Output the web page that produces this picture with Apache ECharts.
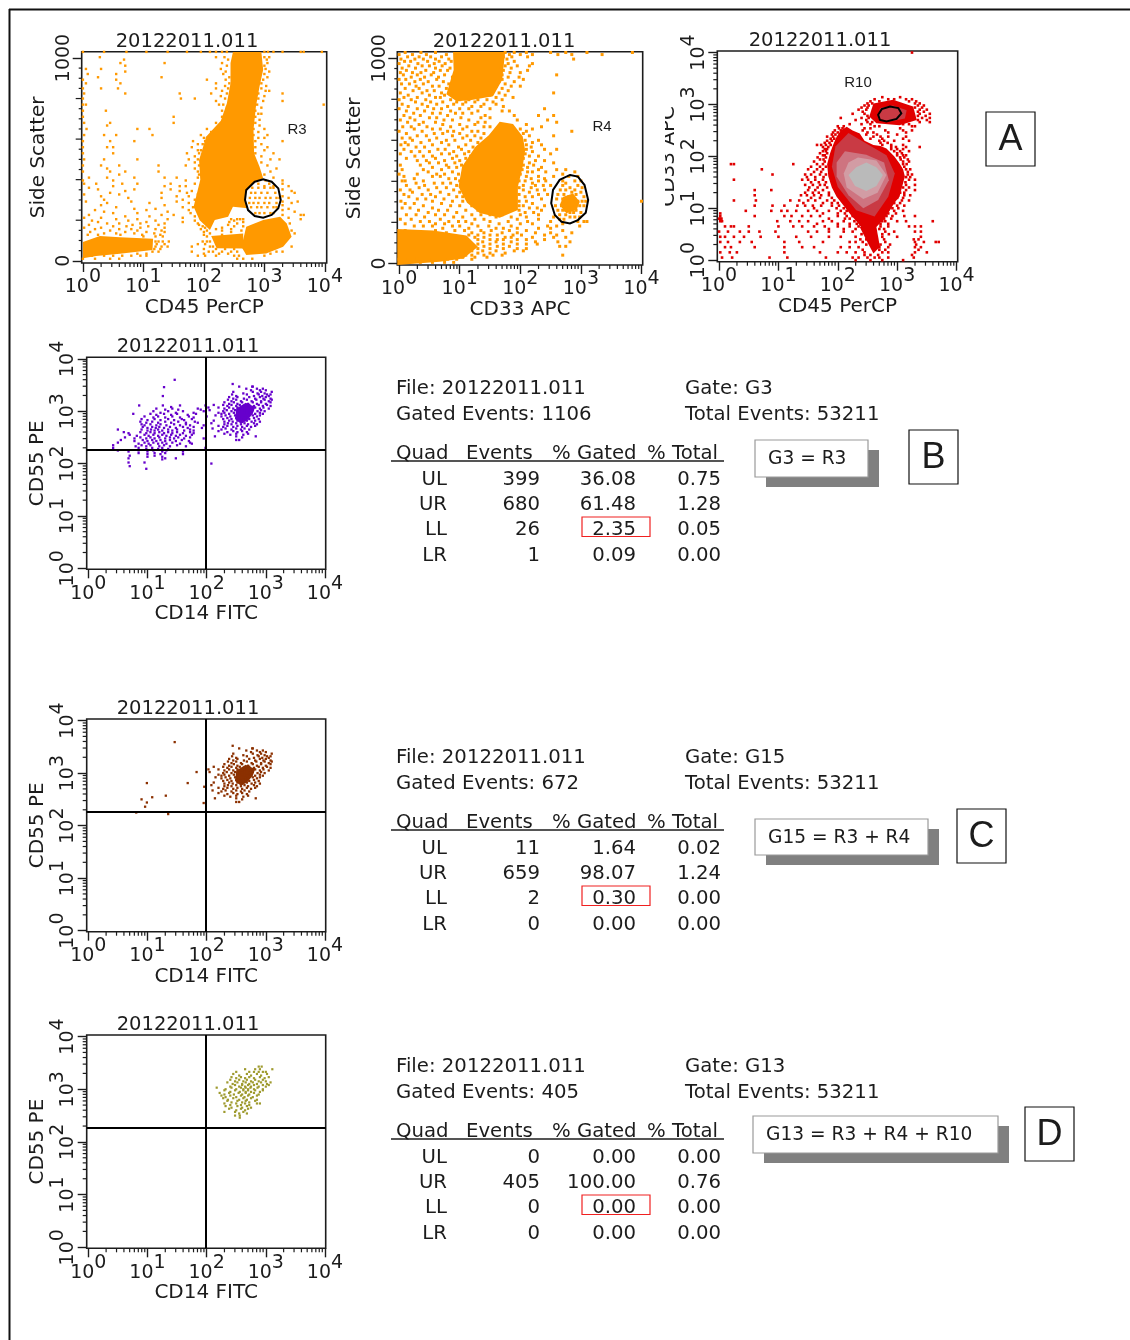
<!DOCTYPE html>
<html><head><meta charset="utf-8"><title>Flow cytometry gating</title>
<style>html,body{margin:0;padding:0;background:#fff}#c{width:1130px;height:1340px}</style>
<script src="https://cdn.jsdelivr.net/npm/echarts@6/dist/echarts.min.js"></script></head>
<body><div id="c"></div>
<script>
// ---------- data: x and log-scaled y are in decades (10^n) ----------
const fileName = '20122011.011';
const totalEvents = 53211;
const quadNames = ['UL','UR','LL','LR'];
const logTicks = [1,10,100,1000,10000];
const sscTicks = [0,1000];

const ssc45Rows = [
[1030,[0,.35,.72,1.05,1.4,1.72,1.95,2.1,2.2,2.3,2.38,3.0,3.06,3.15,3.3,3.6,3.65,3.95]],
[1004,[.28,2.2,2.34,3.0,3.08]],[992,[.68,2.4,3.04]],[975,[.62,1.35,2.3,3.05]],[962,[.7,2.38,3]],[946,[.05,.3,2.28,3.02]],[933,[.7,2.36,3.08]],
[921,[.08,.55,2.32,3]],[905,[.25,1.3,2.42,3.05]],[893,[0,.55,2.05,2.36,2.98]],[875,[.05,.62,2.2,2.42,2.95]],[862,[2.35,3.03]],
[850,[0,.3,.58,2.2,2.4,2.95]],[838,[2.3,3.02,3.08]],[825,[.02,.7,1.6,2.12,2.38,2.9,3.3]],[812,[2.28,3]],[800,[0,1.62,1.85,2.35,2.9]],[788,[2.2,2.98,3.3]],
[770,[0,.05,2.25,2.32,2.88,3.98]],[755,[2.38,2.95]],[740,[0,.38,2.3,2.85]],[725,[2.35,2.95,2.9]],[710,[0,1.5,2.3,2.85]],[695,[2.35,2.92]],
[680,[.02,.45,1.5,2.2,2.85]],[667,[.4,2.25,2.92]],[650,[.06,.9,1.1,2.05,2.2,2.82,3]],[635,[2.12,2.9]],[620,[.02,.35,.55,1.15,1.95,2.82,3.05]],[606,[2,2.05,2.9,3.0]],
[590,[0,.45,.85,1.82,2.02,2.85,3.3]],[575,[1.9,1.98,2.95]],[560,[0,.4,.5,1.8,2.85,3.05]],[545,[1.9,1.95,3.0]],[530,[0,.5,1.72,1.92,2.85,3.15]],[515,[1.85,2.95]],
[500,[.02,.35,.9,1.75,1.9,3.1,3.25]],[485,[1.85,2.95]],[470,[0,.3,.6,1.25,1.7,1.92,3.05]],[455,[.4,1.85,3.2]],[440,[0,.45,.7,1.25,1.9,3.1]],[425,[.6,1.92,3.0]],
[410,[.1,.4,.85,1.35,1.55,1.9,3.15]],[396,[0,.5,1.7,3.02,3.3]],[380,[.02,.22,.65,.9,1.45,1.85,2.9,3.08,3.3]],[368,[.5,1.35,1.6,1.7,3,3.15,3.4]],
[360,[.1,2.8,2.9,3,3.1,3.15]],[352,[.25,.85,1.45,3.3]],[344,[.7,1.6,1.8,3.45]],[335,[.45,1.3,1.72,2.78,2.85,2.95,3.05,3.18,3.5]],[327,[.02,.6,1.9]],
[318,[.3,1.55,1.75,3.3]],[310,[.75,1.3,2.76,2.85,2.92,3.02,3.1,3.2,3.25,3.4]],[301,[.35,1.65,1.85]],[292,[.05,.8,1.55,3.3,3.55]],[285,[.4,1.1,1.75,2.75,2.82,2.9,3,3.08,3.2,3.45]],
[274,[.3,1.35,3.3]],[264,[.55,1.65,1.82,2.78,2.88,2.95,3.05,3.15,3.2]],[256,[.85,1.2,3.4]],[250,[.2,1.05,1.75,3.3]],[242,[.35,1.4,3.5]],[235,[.5,.9,1.78,2.85,2.92,3,3.1,3.15]],
[226,[.1,1.3,1.5,3.3,3.6,3.65]],[219,[.7,1.1,1.85]],[212,[.02,.3,1.65,3.4]],[205,[.55,.9,1.4,2.45,2.55,2.6,2.65,3.6]],[198,[.15,.75,1.2,1.85,2.5]],[191,[.25,1.05,1.65,2.42,2.65]],
[184,[.4,.6,.95,1.35,1.9,2.55,3.42]],[177,[.1,.82,1.25,1.92,2.4]],[170,[.5,.72,1.08,1.98,2.5,2.65]],[163,[.02,.3,.95,1.35,2.02,2.3]],[156,[.2,.6,.8,1.2,1.95,2.2,2.45]],
[149,[.45,.9,1.3,2.05,2.3,2.62,3.45]],[142,[.12,.7,1.05,1.35,2,2.45]],[135,[.35,.55,.85,1.18,2.1,3.5]],[128,[.08,.25,.62,.98,1.28,2,2.3]],[120,[1.0,1.2,1.32,2.05]],
[95,[1.2,1.25,1.32,1.42,1.98,2.05,2.1]],[82,[1.22,1.35,1.9,2.02]],[70,[1.2,1.3,1.4,1.8,2.1,2.15,3.45]],[58,[1.18,1.28,2,2.2,2.35,2.5]],
[45,[1.15,1.25,1.8,2.08,2.15,2.3,2.45,2.55,3.2,3.3]],[35,[.3,.9,1.05,2.0,2.25,2.4,3.1]],[25,[.05,.15,.35,.5,.65,.8,.95,1.05,1.9,2.02,2.2,2.5,2.58,3]],
[10,[0,.2,.45,.6,2.55,2.65,2.8]]];
const ssc45Dense = [
[[2.48,1030],[2.95,1030],[2.98,942],[2.92,860],[2.86,761],[2.82,646],[2.83,530],[2.92,464],[2.98,407],[2.81,385],[2.70,341],[2.68,300],[2.73,259],[2.48,267],[2.40,217],[2.18,201],[2.10,152],[1.93,200],[1.83,267],[1.94,399],[1.92,497],[2.04,613],[2.28,690],[2.38,777],[2.44,876],[2.44,975]],
[[3.26,217],[3.37,184],[3.45,119],[3.31,69],[3.03,36],[2.70,28],[2.62,69],[2.70,168],[2.98,201]],
[[2.12,122],[2.65,135],[2.65,60],[2.21,62]],
[[0,92],[.28,122],[.61,116],[1.16,108],[1.15,53],[.61,34],[.22,24],[0,12]]];
const gateR3 = [[2.84,390],[2.98,402],[3.12,390],[3.23,357],[3.27,300],[3.23,259],[3.12,226],[2.98,212],[2.84,221],[2.73,250],[2.68,300],[2.70,349]];

const ssc33Rows = [
[1028,[.1,.36,.6,1.75,1.9,2.1,2.5,2.75,3.1,3.85]],[1018,[0,.22,.45,.78,1.82,2,2.2,2.62,2.85,3.35]],[1007,[.14,.33,.52,.7,1.72,1.86,2.12]],[996,[.03,.26,.4,.6,.82,1.78,2.88]],
[985,[.09,.19,.47,.66,.86,1.7,1.9]],[974,[0,.31,.58,.76,1.8,2.2]],[963,[.16,.38,.5,.71,1.75,1.95,2.15]],[952,[.05,.27,.6,.84,1.68,1.85]],[941,[.12,.44,.68,.8,1.72,2.12]],
[930,[.02,.22,.36,.57,1.83,2]],[919,[.07,.3,.53,.75,1.7,2.6]],[908,[.2,.42,.65,.88,1.8,1.98]],[897,[0,.11,.35,.62,1.7,2.05]],[886,[.26,.48,.73,1.65,1.9]],
[875,[.04,.17,.4,.82,1.75]],[864,[.28,.55,.66,1.6,1.85,2]],[853,[.1,.33,.78,1.7]],[842,[.23,.46,.58,1.55,1.8]],[831,[.02,.38,.7,1.65,2.55]],[820,[.15,.5,.75,1.5,1.75]],
[809,[.08,.3,.6,.68,1.6,1.88]],[798,[0,.2,.44,.85,1.0,1.15,1.3,1.45,1.7]],[787,[.27,.52,.72,.95,1.1,1.25,1.55]],[776,[.05,.38,.62,.9,1.05,1.4,1.6]],[765,[.15,.47,.8,1.2,1.35,1.72]],
[754,[0,.3,.57,.7,1,1.15,1.5,2.4]],[743,[.12,.42,.85,1.3,1.7,1.82]],[732,[.24,.55,.68,.93,1.05,1.2]],[721,[.08,.35,.8,1.42,1.9,2.3,2.55]],[710,[.18,.5,.62,1.02,1.35,1.5]],
[699,[.02,.26,.74,.88,1.15,1.95,2.45]],[688,[.14,.4,.6,1.3,1.42,2.6]],[677,[.33,.72,1,1.25,2.1]],[666,[.06,.2,.46,.85,1.12,1.4,1.5,2.35]],[655,[.25,.55,.68,1.05,2,2.2]],
[644,[0,.38,.8,.9,1.2,1.3,2.1,2.85]],[633,[.12,.58,.72,1.0,1.4,2.05]],[622,[.3,.45,.88,1.12,1.25,2.15,2.55]],[611,[.05,.18,.62,1.05,1.35]],[600,[.22,.5,.78,.92,1.18,2.08,2.3]],
[589,[.1,.36,.7,1.3,2.2]],[578,[.03,.15,.55,.82,1.1,2.1,2.35]],[567,[.28,.42,.98,1.22,2.18]],[556,[.08,.64,.76,1.03,2.1,2.4,2.6]],[545,[.2,.34,.5,.9,1.15,2.2]],
[534,[.02,.7,.83,1.08,2.08,2.5]],[523,[.26,.4,.55,.95,1.18,2.15,2.3]],[512,[.12,.6,.88,1.1,2.05]],[501,[.3,.45,.75,1,2.25,2.4]],[490,[.5,.65,.92,2.15,2.55]],
[479,[.02,.35,.78,1.03,2.05,2.22]],[468,[.55,.82,.95,2.12,2.35]],[457,[.05,.4,.7,2.03,2.3,2.6,2.75]],[446,[.48,.88,2.12,2.2,2.42,2.9]],[435,[0,.3,.62,.75,.98,2,2.7]],
[424,[.08,.55,.68,2.1,2.3,2.55,2.8,2.95]],[413,[.25,.82,.93,2.18,2.4]],[402,[.05,.1,.4,1,1.98,2.08,2.3,2.42,2.7,2.9,3]],[391,[.28,.58,.72,.85,2.2,2.75]],[380,[.12,.42,.95,2.05,2.25,2.38,2.5,2.7,2.95]],
[369,[.33,.62,.78,1.98,2.18,2.82,3.02]],[358,[.02,.18,.48,.9,2.05,2.28,2.4,2.66,2.75,2.9]],[347,[.22,.68,1,2.15,2.85,3]],[336,[.08,.38,.52,.82,1.98,2.3,2.45,2.62,2.72,2.92]],
[325,[.16,.6,.95,1.05,2.08,2.2,2.8,2.85,3.05]],[314,[.3,.44,.74,2.35,2.6,2.7,2.9]],[303,[.03,.55,.88,1.05,1.98,2.1,2.75,2.8,2.95,3.02,3.08,4]],[292,[.1,.25,.7,2.2,2.85]],
[281,[.4,.85,1,1.2,1.98,2.05,2.4,2.58,2.68,2.74,2.9,2.98,3.05]],[270,[.05,.18,.55,2.15,2.28,2.8,2.85]],[259,[.32,.65,.8,1.1,1.3,1.98,2.35,2.62,2.7,2.75,2.92]],[248,[.48,.95,2.08,2.22,2.82,2.88,3]],
[237,[.12,.28,.6,.75,1.2,1.35,1.5,1.7,2,2.3,2.65,2.75]],[226,[.42,.9,1.05,1.6,1.85,2.1,2.55,2.82,2.9,2.98]],[215,[.02,.2,.68,1.25,1.4,1.95,2.3,2.65,2.72]],[204,[.35,.5,.82,.98,1.1,1.5,1.8,2.12,2.5,2.95,3.05,3.1]],
[193,[.1,.6,.75,1.2,1.65,2,2.2,2.7]],[182,[.25,.4,.55,.88,1,1.3,1.48,1.85,2.45,2.6,2.98]],[171,[.72,1.15,1.6,1.72,1.95,2.3,2.5]],[160,[.1,.6,.92,1.08,1.35,1.52,1.82,2.1,2.7]],
[149,[.78,1.2,1.4,1.7,1.95,2.25,2.5,2.85]],[138,[1.15,1.3,1.5,1.62,1.88,2.02,2.4,2.6]],[127,[1.25,1.4,1.75,1.85,2.2,2.55,2.75]],[116,[1.3,1.5,1.62,1.72,1.95,2.1,2.4]],
[105,[1.38,1.6,1.85,2.25,2.62,2.82]],[94,[1.3,1.5,1.72,1.95,2.1,2.28]],[83,[1.4,1.62,1.82,2.65,2.75]],[72,[1.3,1.5,1.72,1.95,2.1]],[61,[1.2,1.38,1.6,1.9,2.05]],[50,[1.3,1.5,1.75]],
[40,[1.1,1.2,1.4,1.55,1.7,2.7]],[30,[1.05,1.25,1.45]],[20,[0,.15,.3,.5,.65,.8,.95,1.2]],[5,[.1,.35,.55,.75,.9]]];
const ssc33Dense = [
[[1.66,690],[1.88,680],[2.04,618],[2.08,553],[2.04,472],[1.96,374],[1.96,260],[1.66,222],[1.33,245],[1.12,295],[.98,374],[1.04,472],[1.26,569],[1.48,625]],
[[.89,1030],[1.75,1030],[1.7,894],[1.55,815],[1.17,795],[.95,790],[.78,825],[.90,943]],
[[-.03,168],[.56,160],[1.11,136],[1.3,81],[1.06,24],[.67,8],[-.03,-8]],
[[2.71,325],[2.87,341],[2.98,301],[2.93,260],[2.76,244],[2.65,285]]];
const gateR4 = [[2.82,431],[2.95,423],[3.06,382],[3.12,309],[3.08,247],[2.95,211],[2.82,195],[2.68,203],[2.57,236],[2.51,293],[2.54,358],[2.65,407]];

const apc45Rows = [
[4,[3.25]],[3.14,[2.75,3.05]],[3.1,[2.62,2.85,2.95,3.15,3.25]],[3.06,[2.55,2.7,3.2,3.32]],[3.02,[2.5,2.58,3.3,3.38]],[2.98,[2.45,2.52,3.35,3.45]],[2.94,[2.4,2.5,3.3,3.42]],
[2.9,[2.35,2.48,3.38,3.5]],[2.86,[2.42,3.35,3.45]],[2.82,[2.25,2.45,3.38,3.55]],[2.78,[2.5,3.35,3.48]],[2.74,[2.05,2.4,2.52,3.42,3.55]],[2.7,[2.3,2.48,3.35,3.5]],
[2.66,[2.5,2.58,3.38,3.55]],[2.62,[2.2,2.4,2.55,3.1,3.2]],[2.58,[2.0,2.1,2.62,2.7,3.25,3.3]],[2.54,[2.02,2.08,2.45,2.55,3.05]],[2.5,[1.95,2.05,2.42,2.8,3.1,3.25]],
[2.46,[1.92,2.0,2.5,2.6,2.85,3.15]],[2.42,[1.9,1.96,2.48,2.66,3]],[2.38,[1.82,1.92,2.6,2.72,2.85,3.15]],[2.34,[1.88,1.94,2.55,2.75,3.1]],[2.3,[1.82,1.9,2.7,2.78,2.95,3.2]],
[2.26,[1.78,1.86,2.72,2.84]],[2.22,[1.65,1.72,1.8,1.88,2.75,2.9,3.1]],[2.18,[1.75,1.84,2.9,2.98,3.15,3.38]],[2.14,[1.78,1.82,2.9,3,3.1]],[2.1,[1.75,1.8,2.95,3.05,3.2]],
[2.06,[1.7,1.82,3,3.08]],[2.02,[1.75,1.78,3,3.1,3.15]],[1.98,[1.66,1.8,3.05,3.12]],[1.94,[1.7,1.76,3.06,3.18]],[1.9,[1.6,1.78,3.1,3.2]],[1.85,[.2,.25,1.25,1.65,1.75,3.1,3.16]],
[1.8,[1.55,1.7,1.8,3.12]],[1.75,[.72,1.5,1.65,1.75,3.15,3.22]],[1.7,[1.6,1.72,3.18]],[1.65,[.9,1.45,1.55,1.7,1.8,3.18,3.25]],[1.6,[1.48,1.62,1.76,3.15,3.22]],
[1.55,[.25,1.4,1.5,1.62,1.75,3.2,3.3]],[1.5,[1.55,1.68,1.8,3.14]],[1.45,[1.45,1.58,1.7,1.78,3.15,3.3]],[1.4,[1.52,1.66,1.82,3.1,3.2]],[1.35,[.6,.88,1.5,1.62,1.75,3.15,3.3]],
[1.3,[1.45,1.58,1.68,1.85,3.05,3.12]],[1.25,[.6,1.38,1.48,1.6,1.72,1.85,3.12,3.22]],[1.2,[1.55,1.7,1.9,3.0,3.1]],[1.15,[.25,.62,1.2,1.35,1.5,1.62,1.82,1.94,3.08,3.2]],
[1.1,[1.42,1.75,1.9,2.0,2.95,3.05]],[1.05,[.6,.9,1.1,1.32,1.45,1.58,1.72,1.9,2.02,3,3.12]],[1,[1.6,1.98,2.1,2.92,3.02]],[.95,[.45,.88,1.05,1.15,1.3,1.5,1.65,1.85,2.05,2.15,2.95,3.1]],
[.9,[.02,1.75,2,2.12,2.85,2.98]],[.85,[.02,.6,1.1,1.22,1.4,1.55,1.7,2,2.15,2.25,2.82,2.92,3.12,3.3]],[.8,[0,.02,.04,1.85,2.12,2.2,2.78,2.9]],
[.75,[.02,.05,.98,1.2,1.35,1.5,1.75,1.9,2.1,2.28,2.75,2.8,3,3.15,3.6]],[.7,[1.65,2,2.2,2.32,2.72,2.85]],[.65,[.1,.2,.25,.5,1,1.25,1.4,1.6,1.78,2,2.2,2.35,2.72,2.85,3.2,3.3,3.4]],
[.6,[1.85,2.1,2.3,2.7,2.78]],[.55,[0,.15,.35,.5,.68,.95,1.5,1.65,1.85,2.1,2.25,2.8,2.95,3.3,3.4]],[.5,[2.4,2.75,2.86]],
[.45,[.02,.1,.25,.42,.7,1,1.3,1.55,1.85,2.05,2.3,2.75,3,3.4]],[.4,[2.38,2.48,2.78,3.28,3.36]],[.35,[.02,.15,.35,.55,1.1,1.35,1.75,2.2,2.3,2.42,2.8,3.3,3.45,3.65,3.7]],
[.3,[2.48,2.72,2.88,3.32]],[.25,[.1,.2,.6,1.1,1.4,1.6,2.05,2.2,2.35,2.7,2.85,3.3,3.4]],[.2,[2.42,2.7,2.8,3.36]],[.15,[.02,.18,.3,1.1,1.7,2,2.15,2.3,2.45,2.75,2.85,3.3,3.5]],
[.1,[2.45,2.55,2.68,3.25]],[.05,[.05,.22,.85,1.15,1.8,2.25,2.35,2.5,2.62,2.7,2.85,3.28]],[0,[2.3,2.55,2.75,3.1]]];
const apc45Layers = [
[[2.15,2.57],[2.25,2.5],[2.37,2.44],[2.45,2.3],[2.60,2.22],[2.72,2.2],[2.82,2.15],[2.95,2.0],[3.04,1.86],[3.10,1.75],[3.13,1.61],[3.08,1.4],[3.04,1.22],[2.95,1.1],[2.88,.96],[2.78,.8],[2.65,.64],[2.43,.58],[2.32,.74],[2.20,.90],[2.1,1.05],[1.98,1.22],[1.9,1.4],[1.84,1.61],[1.82,1.85],[1.87,2.06],[1.92,2.22],[1.98,2.38],[2.05,2.5]],
[[2.60,3.02],[2.93,3.09],[3.27,2.96],[3.33,2.70],[3.04,2.60],[2.65,2.64],[2.53,2.77]],
[[2.37,.64],[2.65,.64],[2.71,.26],[2.60,.13],[2.51,.32]],
[[2.18,2.45],[2.48,2.25],[2.82,2.02],[2.96,1.67],[2.85,1.22],[2.62,.84],[2.31,.96],[2.0,1.41],[1.9,1.80],[1.96,2.19]],
[[2.71,2.93],[2.93,2.98],[3.16,2.89],[3.13,2.73],[2.88,2.67],[2.68,2.73]],
[[2.12,2.1],[2.48,2.03],[2.78,1.88],[2.86,1.54],[2.68,1.16],[2.43,1.0],[2.18,1.25],[1.98,1.61],[1.98,1.88]],
[[2.34,1.98],[2.65,1.92],[2.82,1.64],[2.67,1.3],[2.43,1.18],[2.15,1.40],[2.1,1.67],[2.18,1.88]],
[[2.48,1.88],[2.65,1.79],[2.76,1.64],[2.65,1.43],[2.48,1.33],[2.29,1.43],[2.18,1.64],[2.31,1.79]]];
const apc45LayerTones = ['#E00000','#E00000','#E00000','#C93A44','#C93A44','#CE7480','#D29CA4','#BABABA'];
const gateR10 = [[2.68,2.80],[2.74,2.91],[2.88,2.96],[3.02,2.93],[3.07,2.83],[2.99,2.72],[2.82,2.67],[2.71,2.70]];

const urClusterRows = [
[3.52,[2.44]],[3.47,[2.55,2.77,2.78]],[3.43,[2.67,2.85,2.95]],[3.4,[2.75,2.9,3]],[3.37,[2.45,2.78,2.92,3.1]],[3.34,[2.62,2.86,2.98]],[3.32,[2.43,2.68,2.88,3.02,3.08]],[3.29,[2.5,2.8,2.94,3.05]],
[3.27,[2.38,2.52,2.72,2.9,3]],[3.24,[2.45,2.63,2.82,2.96,3.08]],[3.22,[2.36,2.5,2.68,2.84,2.98,3.1]],[3.19,[2.42,2.58,2.76,2.92,3.05]],[3.17,[2.3,2.46,2.6,2.78,2.92,3.08]],[3.14,[2.38,2.52,2.7,2.85,3]],
[3.12,[2.12,2.28,2.42,2.56,2.72,2.88,3.02]],[3.1,[2.35,2.5,2.64,2.8,2.95,3.08]],[3.07,[2.03,2.2,2.38,2.52,2.68,2.82,2.96]],[3.05,[2.3,2.45,2.6,2.75,2.9,3.05]],[3.02,[2.05,2.34,2.48,2.64,2.78,2.92]],
[3,[2.28,2.42,2.56,2.72,2.86,2.98]],[2.97,[2.2,2.3,2.46,2.6,2.74,2.9]],[2.95,[2.25,2.38,2.52,2.68,2.82,2.95]],[2.92,[2.15,2.32,2.48,2.62,2.78,2.9]],[2.9,[2.25,2.4,2.55,2.7,2.85]],
[2.87,[2.35,2.5,2.66,2.8]],[2.85,[2.28,2.42,2.58,2.72,2.88]],[2.82,[2.12,2.38,2.52,2.68,2.82]],[2.8,[2.3,2.44,2.6,2.76,2.9]],[2.77,[2.08,2.36,2.5,2.64,2.8]],[2.75,[2.3,2.42,2.58,2.7,2.85]],
[2.72,[2.2,2.35,2.52,2.68,2.82]],[2.7,[2.28,2.45,2.6,2.75]],[2.67,[2.1,2.32,2.5,2.64]],[2.65,[2.25,2.42,2.58,2.72]],[2.62,[2.2,2.45,2.6]],[2.6,[2.35,2.52,2.68]],[2.57,[2.3,2.5,2.7]],[2.55,[2.4,2.62]],
[2.52,[2.14,2.5,2.83]],[2.5,[2.6]],[2.45,[2.5,2.55]]];
const urCore = [[[2.5,3.05],[2.66,3.16],[2.82,3.08],[2.78,2.95],[2.68,2.82],[2.58,2.76],[2.48,2.85]]];
const ulClusterRows = [
[3.6,[1.46]],[3.46,[1.28]],[3.29,[1.26]],[3.11,[.86,1.26,1.55,1.98]],[3.08,[1.4]],[3.05,[1.15,1.42,1.85]],[3.03,[1.3,1.52,1.9]],[3,[1.1,1.35,1.6,1.95]],[2.97,[1.22,1.48,1.78]],
[2.95,[.76,1.05,1.28,1.5,1.82]],[2.93,[1.15,1.4,1.68]],[2.9,[.95,1.18,1.42,1.7,2]],[2.88,[1.1,1.3,1.55,1.78]],[2.85,[.9,1.12,1.35,1.58,1.75]],[2.83,[1,1.22,1.45,1.62]],
[2.8,[.88,1.08,1.3,1.52,1.8]],[2.78,[.98,1.18,1.4,1.65,1.85]],[2.75,[.9,1.05,1.22,1.45,1.65]],[2.73,[.95,1.15,1.32,1.55,1.72,1.95]],[2.7,[.92,1.08,1.2,1.38,1.6,1.78]],[2.68,[1,1.14,1.28,1.48,1.68,1.92]],
[2.65,[.5,.9,1.06,1.18,1.35,1.5,1.72]],[2.63,[1,1.12,1.25,1.42,1.62,1.78]],[2.6,[.6,.88,1.05,1.2,1.35,1.5,1.72]],[2.58,[.68,.98,1.12,1.28,1.42,1.6,1.78]],[2.55,[.7,.95,1.1,1.25,1.4,1.55,1.75]],[2.53,[.82,1.02,1.18,1.32,1.48,1.65]],
[2.5,[.62,.88,1.05,1.2,1.38,1.52,1.72]],[2.48,[.78,.98,1.12,1.3,1.45,1.62,1.95]],[2.45,[.55,.92,1.08,1.22,1.38,1.58]],[2.43,[.78,1,1.15,1.3,1.48,1.7]],[2.4,[.5,.95,1.1,1.25,1.42,1.72]],[2.38,[.85,1.02,1.18,1.32,1.55,1.75]],
[2.35,[.42,.9,1.05,1.28,1.5]],[2.33,[.8,.98,1.2,1.38,1.65]],[2.3,[.42,.85,1.08,1.25,1.98]],[2.28,[.98,1.18,1.35]],[2.25,[.5,.85,1.1,1.32]],[2.23,[.68,1,1.25,1.6]],[2.2,[.85,1.12,1.3]],[2.18,[1,1.22,1.6]],
[2.15,[.7,1.12]],[2.13,[1,1.25]],[2.1,[.68,1.3,1.48]],[2.08,[1.25]],[2.02,[.68,.95]],[2,[2.08]],[1.95,[.7]],[1.9,[.98]]];
const g15StrayRows = [[3.59,[1.46]],[3.02,[1.83]],[2.81,[1.68,.99]],[2.74,[1.96]],[2.57,[1.31]],[2.54,[1.08]],[2.5,[.9]],[2.44,[.99]],[2.43,[1.95]],[2.36,[.96]],[2.25,[.81]],[2.22,[1.35]]];
const g13Rows = [
[3.43,[2.88,2.93]],[3.38,[2.65,2.82,2.9,3.11]],[3.33,[2.5,2.72,2.8,2.88,2.95,3]],[3.29,[2.45,2.68,2.85,3.02]],[3.26,[2.55,2.75,2.92]],
[3.23,[2.42,2.58,2.72,2.9,3.05]],[3.21,[2.5,2.65,2.8,2.98]],[3.18,[2.4,2.55,2.68,2.82,2.95]],[3.15,[2.48,2.62,2.75,2.88,3]],
[3.13,[2.35,2.52,2.66,2.78,2.92,3.08]],[3.1,[2.44,2.6,2.72,2.85,3.02]],[3.08,[2.48,2.6,2.7,2.8,2.95,3.05]],[3.05,[2.4,2.55,2.65,2.75,2.88,3]],
[3.03,[2.17,2.42,2.58,2.66,2.74,2.86]],[3,[2.32,2.5,2.62,2.7,2.8,2.95]],[2.98,[2.3,2.48,2.62,2.7,2.82,2.95]],[2.95,[2.4,2.56,2.66,2.75,2.9]],
[2.93,[2.22,2.38,2.54,2.66,2.8]],[2.9,[2.3,2.46,2.6,2.72,2.88]],[2.88,[2.25,2.4,2.58,2.7,2.85]],[2.85,[2.32,2.5,2.64,2.78]],
[2.83,[2.28,2.45,2.62,2.75]],[2.8,[2.36,2.55,2.68,2.85]],[2.78,[2.35,2.52,2.66,2.82]],[2.75,[2.42,2.6,2.72]],[2.73,[2.3,2.5,2.65,2.85,2.9]],[2.7,[2.4,2.58,2.72]],
[2.68,[2.32,2.52,2.68]],[2.65,[2.42,2.6,2.75]],[2.63,[2.38,2.58,2.7]],[2.6,[2.5,2.65]],[2.57,[2.3,2.48,2.62]],[2.54,[2.55,2.68]],[2.5,[2.48,2.56]],[2.46,[2.56]]];
const quadCutX = 1.98;
const quadCutY = 2.27;

const gateNames = ['G3','G15','G13'];
const gatedEvents = [1106,672,405];
const gateDefs = ['G3 = R3','G15 = R3 + R4','G13 = R3 + R4 + R10'];
const eventsG3 = [399,680,26,1];
const pctGatedG3 = ['36.08','61.48','2.35','0.09'];
const pctTotalG3 = ['0.75','1.28','0.05','0.00'];
const eventsG15 = [11,659,2,0];
const pctGatedG15 = ['1.64','98.07','0.30','0.00'];
const pctTotalG15 = ['0.02','1.24','0.00','0.00'];
const eventsG13 = [0,405,0,0];
const pctGatedG13 = ['0.00','100.00','0.00','0.00'];
const pctTotalG13 = ['0.00','0.76','0.00','0.00'];

// ---------- layout and helpers ----------
const INK = '#1c1c1c';
const UI = '"DejaVu Sans", Verdana, sans-serif';
const points = (rows, yLog) => rows.flatMap(([y, xs]) => xs.map(d => [10 ** d, yLog ? 10 ** y : y]));
const range = (a, b, s) => { const o = []; for (let v = a; v <= b; v += s) o.push(v); return o; };
const logMinor = range(0, 3, 1).flatMap(n => range(2, 9, 1).map(m => m * 10 ** n));
const sscMid = range(200, 800, 200), sscMinor = range(50, 950, 50).filter(v => v % 200);

const grids = [], xAxes = [], yAxes = [], series = [], titles = [];
function customSeries(i, count, z, renderItem) {
  series.push({type:'custom', xAxisIndex:i, yAxisIndex:i, z, silent:true, clip:false,
    data: Array.from({length:count}, (_, k) => [k + 1]), encode:{x:0, y:0}, renderItem});
}
function polygons(i, polys, yLog, fills, z) {
  const at = (api, [x, y]) => api.coord([10 ** x, yLog ? 10 ** y : y]);
  customSeries(i, polys.length, z, (p, api) => ({type:'polygon',
    shape:{points: polys[p.dataIndex].map(q => at(api, q))},
    style:{fill: fills[p.dataIndex] ?? fills[0]}}));
}
function gate(i, poly, yLog) {
  customSeries(i, 1, 6, (p, api) => ({type:'polygon',
    shape:{points: poly.map(([x, y]) => api.coord([10 ** x, yLog ? 10 ** y : y]))},
    style:{fill:'none', stroke:'#000', lineWidth:2}}));
}
function ticks(i, list, vertical, len) {
  customSeries(i, list.length, 1, (p, api) => {
    const r = p.coordSys, v = list[p.dataIndex];
    if (vertical) { const c = api.coord([1, v])[1];
      return {type:'line', shape:{x1:r.x, y1:c, x2:r.x - len, y2:c}, style:{stroke:INK, lineWidth:1.2}}; }
    const c = api.coord([v, 1])[0];
    return {type:'line', shape:{x1:c, y1:r.y + r.height, x2:c, y2:r.y + r.height + len}, style:{stroke:INK, lineWidth:1.2}};
  });
}
const logLabel = v => `{a|10}{b|${Math.round(Math.log10(v))}}`;
const rich = {a:{fontFamily:UI, fontSize:19, color:INK, lineHeight:29, verticalAlign:'bottom'},
              b:{fontFamily:UI, fontSize:19, color:INK, lineHeight:29, verticalAlign:'top'}};
function panel(cfg) {
  const i = grids.length, [l, t, w, h] = cfg.frame;
  grids.push({left:l, top:t, width:w, height:h, show:true, backgroundColor:'#fff', borderColor:INK, borderWidth:1.6, z:0});
  xAxes.push({gridIndex:i, type:'log', logBase:10, min:10 ** cfg.xr[0], max:10 ** cfg.xr[1],
    name:cfg.xName, nameLocation:'middle', nameGap:cfg.xGap, nameTextStyle:{fontFamily:UI, fontSize:20, color:INK},
    axisLine:{show:false, onZero:false}, splitLine:{show:false},
    axisTick:{show:true, customValues:logTicks, length:9, lineStyle:{color:INK, width:1.4}},
    axisLabel:{customValues:logTicks, formatter:logLabel, rich, margin:5, hideOverlap:false}});
  const yAxis = {gridIndex:i, name:cfg.yName, nameLocation:'middle', nameGap:cfg.yGap, nameRotate:90,
    nameTextStyle:{fontFamily:UI, fontSize:20, color:INK}, axisLine:{show:false, onZero:false}, splitLine:{show:false}};
  if (cfg.yLog) Object.assign(yAxis, {type:'log', logBase:10, min:10 ** cfg.yr[0], max:10 ** cfg.yr[1],
    axisTick:{show:true, customValues:logTicks, length:9, lineStyle:{color:INK, width:1.4}},
    axisLabel:{customValues:logTicks, formatter:logLabel, rich, rotate:90, margin:9, hideOverlap:false}});
  else Object.assign(yAxis, {type:'value', min:cfg.yr[0], max:cfg.yr[1],
    axisTick:{show:true, customValues:sscTicks, length:9, lineStyle:{color:INK, width:1.4}},
    axisLabel:{customValues:sscTicks, formatter:v => String(v), rotate:90, margin:8, fontFamily:UI, fontSize:19, color:INK, hideOverlap:false}});
  yAxes.push(yAxis);
  titles.push({text:fileName, left:cfg.titleX, top:t - 20, textAlign:'center', padding:0,
    textStyle:{fontFamily:UI, fontSize:19.5, fontWeight:'normal', color:INK}});
  ticks(i, logMinor, false, 4);
  if (cfg.yLog) ticks(i, logMinor, true, 4);
  else { ticks(i, sscMid, true, 6); ticks(i, sscMinor, true, 3); }
  if (cfg.polys) polygons(i, cfg.polys, cfg.yLog, cfg.tones || [cfg.color], cfg.polyZ || 2);
  (cfg.rows || []).forEach(rows => series.push({type:'scatter', xAxisIndex:i, yAxisIndex:i, z:3, silent:true,
    symbol:'rect', symbolSize:cfg.size || 2, itemStyle:{color:cfg.color, opacity:1}, data:points(rows, cfg.yLog),
    markLine: cfg.quad ? {symbol:'none', silent:true, label:{show:false}, animation:false,
      lineStyle:{color:'#000', width:2, type:'solid'},
      data:[{xAxis:10 ** quadCutX}, {yAxis:10 ** quadCutY}]} : undefined}));
  if (cfg.gate) gate(i, cfg.gate, cfg.yLog);
}
panel({frame:[81.7,51.7,245,211.3], xr:[-.02,4.03], yr:[-11,1031], titleX:187, xName:'CD45 PerCP', yName:'Side Scatter', xGap:33, yGap:33,
  color:'#FF9900', rows:[ssc45Rows], polys:ssc45Dense, size:2.4, gate:gateR3});
panel({frame:[397.3,51.7,245.4,213.3], xr:[-.03,4.02], yr:[-8,1032], titleX:504, xName:'CD33 APC', yName:'Side Scatter', xGap:33, yGap:33,
  color:'#FF9900', rows:[ssc33Rows], polys:ssc33Dense, size:3, gate:gateR4});
panel({frame:[717.3,51,240.4,210.7], xr:[-.03,4.02], yr:[-.03,4.03], yLog:true, titleX:820, xName:'CD45 PerCP', yName:'CD33 APC', xGap:33, yGap:36,
  color:'#E00000', rows:[apc45Rows], polys:apc45Layers, tones:apc45LayerTones, polyZ:4, size:2.6, gate:gateR10});
const lower = (t, h, color, rows, polys, size) => panel({frame:[86.7,t,239,h], xr:[-.027,4.012], yr:[-.02,4.03], yLog:true, titleX:188,
  xName:'CD14 FITC', yName:'CD55 PE', xGap:33, yGap:38, color, rows, polys, quad:true, size});
lower(357.3, 212, '#6600CC', [ulClusterRows, urClusterRows], urCore, 2.3);
lower(719, 212.7, '#8B3000', [g15StrayRows, urClusterRows], urCore, 2.3);
lower(1035, 213.3, '#9E9A2E', [g13Rows], undefined, 2.2);

// statistics blocks, legends, letters
const g = [];
const txt = (text, x, y, font, align) => g.push({type:'text', x, y, z:20, silent:true,
  style:{text, font, fill:INK, align:align || 'left', verticalAlign:'middle'}});
const box = (x, y, w, h, fill, stroke, lw) => g.push({type:'rect', z:19, silent:true,
  shape:{x, y, width:w, height:h}, style:{fill, stroke:stroke || 'none', lineWidth:lw || 1}});
const F = `19.7px ${UI}`;
const stats = [
  {dy:0,   gate:gateNames[0], n:gatedEvents[0], ev:eventsG3,  pg:pctGatedG3,  pt:pctTotalG3,  def:gateDefs[0], lg:[755,440,113,37], lt:'B', lb:[909,430]},
  {dy:369, gate:gateNames[1], n:gatedEvents[1], ev:eventsG15, pg:pctGatedG15, pt:pctTotalG15, def:gateDefs[1], lg:[755,819,173,36], lt:'C', lb:[957,809]},
  {dy:678, gate:gateNames[2], n:gatedEvents[2], ev:eventsG13, pg:pctGatedG13, pt:pctTotalG13, def:gateDefs[2], lg:[753,1116,245,37], lt:'D', lb:[1025,1107]}];
const rowY = [480,505,530,556];
stats.forEach(s => {
  const d = s.dy;
  txt(`File: ${fileName}`, 396, 389 + d, F);
  txt(`Gate: ${s.gate}`, 685, 389 + d, F);
  txt(`Gated Events: ${s.n}`, 396, 415 + d, F);
  txt(`Total Events: ${totalEvents}`, 685, 415 + d, F);
  txt('Quad', 396, 454 + d, F); txt('Events', 466, 454 + d, F);
  txt('% Gated', 552, 454 + d, F); txt('% Total', 647, 454 + d, F);
  g.push({type:'line', z:19, silent:true, shape:{x1:391, y1:461 + d, x2:724, y2:461 + d}, style:{stroke:INK, lineWidth:1.6}});
  quadNames.forEach((q, r) => {
    const y = rowY[r] + d;
    txt(q, 447, y, F, 'right');
    txt(String(s.ev[r]), 540, y, F, 'right');
    txt(s.pg[r], 636, y, F, 'right');
    txt(s.pt[r], 721, y, F, 'right');
  });
  box(582, 517 + d, 68, 19.5, 'none', '#F02020', 1.2);
  const [lx, ly, lw, lh] = s.lg;
  box(lx + 11, ly + 10, lw, lh, '#808080');
  box(lx, ly, lw, lh, '#fff', '#9a9a9a', 1.2);
  txt(s.def, lx + 13, ly + lh / 2 + 1, `18.6px ${UI}`);
  box(s.lb[0], s.lb[1], 49, 54, '#fff', '#111', 1.2);
  txt(s.lt, s.lb[0] + 24.5, s.lb[1] + 28, '36px "Liberation Sans", Arial, sans-serif', 'center');
});
box(986, 112, 49, 54, '#fff', '#111', 1.2);
txt('A', 1010.5, 140, '36px "Liberation Sans", Arial, sans-serif', 'center');
const REG = '15px "Liberation Sans", Arial, sans-serif';
txt('R3', 297, 130, REG, 'center'); txt('R4', 602, 127, REG, 'center'); txt('R10', 858, 83, REG, 'center');
// sheet edge and the crop on the left of the third panel's axis name
box(655, 90, 10, 140, '#fff');
g.push({type:'line', z:21, silent:true, shape:{x1:9, y1:9.5, x2:1130, y2:9.5}, style:{stroke:'#111', lineWidth:2}});
g.push({type:'line', z:21, silent:true, shape:{x1:9.5, y1:9, x2:9.5, y2:1340}, style:{stroke:'#111', lineWidth:2}});

const chart = echarts.init(document.getElementById('c'), null, {renderer:'canvas', width:1130, height:1340});
chart.setOption({animation:false, backgroundColor:'#fff', title:titles, grid:grids, xAxis:xAxes, yAxis:yAxes, series, graphic:g, tooltip:{show:false}});
</script></body></html>
